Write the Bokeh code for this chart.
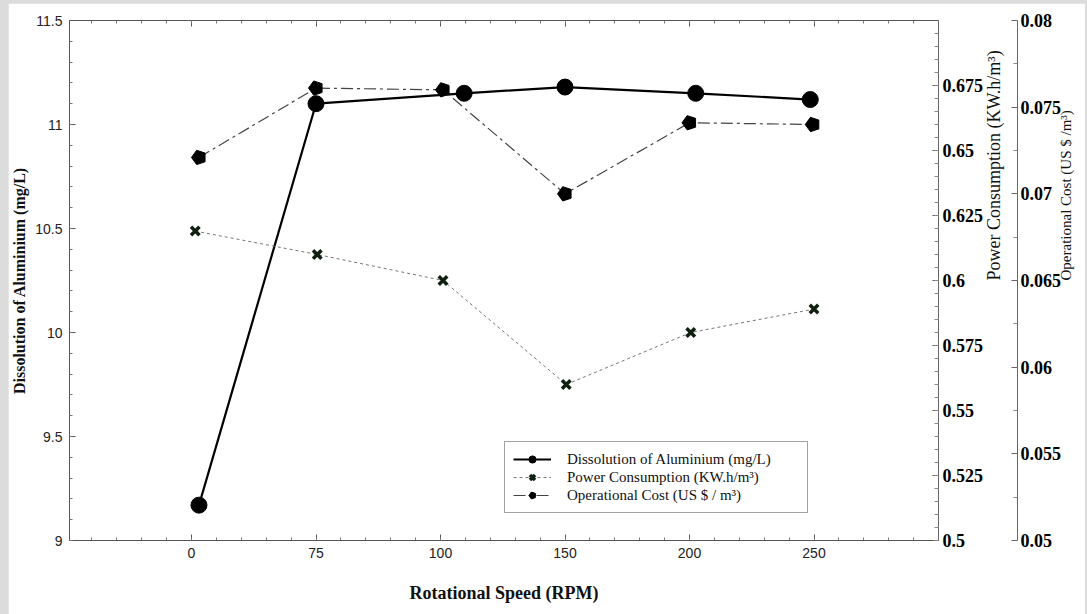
import numpy as np
from bokeh.plotting import figure
from bokeh.models import LinearAxis, Range1d, FixedTicker, Legend, LegendItem
from bokeh.embed import file_html
from bokeh.resources import INLINE

# ---------------- data ----------------
rpm_labels = ["0", "75", "100", "150", "200", "250"]

# x positions of points (in category-slot units, slot i = rpm_labels[i])
dis_x = [0.06, 1.00, 2.19, 3.00, 4.05, 4.97]
dis_y = [9.17, 11.10, 11.15, 11.18, 11.15, 11.12]          # mg/L

pow_x = [0.03, 1.01, 2.02, 3.01, 4.01, 5.00]
pow_y = [0.619, 0.610, 0.600, 0.560, 0.580, 0.589]        # KW.h/m3

cost_x = [0.06, 1.00, 2.02, 3.00, 4.00, 4.99]
cost_y = [0.0721, 0.0761, 0.0760, 0.0700, 0.0741, 0.0740]  # US $/m3

left_labels = ["9", "9.5", "10", "10.5", "11", "11.5"]
power_labels = ["0.5", "0.525", "0.55", "0.575", "0.6", "0.625", "0.65", "0.675"]
cost_labels = ["0.05", "0.055", "0.06", "0.065", "0.07", "0.075", "0.08"]

SERIF = "Liberation Serif"
SANS = "Liberation Sans"

p = figure(frame_width=869, frame_height=520,
           x_range=Range1d(-0.98, 6.0), y_range=Range1d(9, 11.5),
           output_backend="svg", toolbar_location=None,
           min_border_left=58, min_border_top=17, min_border_bottom=74, min_border_right=0,
           background_fill_color="white", border_fill_color="white",
           outline_line_color=None)
p.xgrid.visible = False
p.ygrid.visible = False
p.extra_y_ranges = {"power": Range1d(0.5, 0.7), "cost": Range1d(0.05, 0.08)}

# ---- x axis (bottom) ----
x_major = list(range(len(rpm_labels)))
x_minor = [round(v, 2) for v in np.arange(-0.8, 6.0, 0.2)]
xax = p.xaxis[0]
xax.ticker = FixedTicker(ticks=x_major, minor_ticks=x_minor)
xax.major_label_overrides = {i: s for i, s in enumerate(rpm_labels)}
xax.axis_label = "Rotational Speed (RPM)"

top = LinearAxis(ticker=FixedTicker(ticks=x_major, minor_ticks=x_minor),
                 major_label_standoff=0)
top.major_label_overrides = {i: "" for i in x_major}
p.add_layout(top, "above")

for ax in (xax, top):
    ax.major_tick_in = 6
    ax.major_tick_out = 0
    ax.minor_tick_in = 3
    ax.minor_tick_out = 0
    ax.axis_line_color = "#555555"
    ax.major_tick_line_color = "#555555"
    ax.minor_tick_line_color = "#777777"
xax.major_label_text_font = SANS
xax.major_label_text_font_size = "14px"
xax.major_label_text_color = "#222222"
xax.major_label_standoff = 7
xax.axis_label_text_font = SERIF
xax.axis_label_text_font_style = "bold"
xax.axis_label_text_font_size = "18px"
xax.axis_label_text_color = "#111111"
xax.axis_label_standoff = 22

# ---- left axis ----
yax = p.yaxis[0]
yax.ticker = FixedTicker(ticks=[float(s) for s in left_labels],
                         minor_ticks=[round(v, 2) for v in np.arange(9, 11.5, 0.1)])
yax.major_label_overrides = {float(s): s for s in left_labels}
yax.axis_label = "Dissolution of Aluminium (mg/L)"
yax.major_tick_in = 6
yax.major_tick_out = 0
yax.minor_tick_in = 3
yax.minor_tick_out = 0
yax.axis_line_color = "#555555"
yax.major_tick_line_color = "#555555"
yax.minor_tick_line_color = "#777777"
yax.major_label_text_font = SANS
yax.major_label_text_font_size = "14px"
yax.major_label_text_color = "#222222"
yax.major_label_standoff = 7
yax.axis_label_text_font = SERIF
yax.axis_label_text_font_style = "bold"
yax.axis_label_text_font_size = "16px"
yax.axis_label_text_color = "#111111"
yax.axis_label_standoff = 4

has_orient = "axis_label_orientation" in LinearAxis.properties()

# ---- right axes ----
pax = LinearAxis(y_range_name="power",
                 ticker=FixedTicker(ticks=[float(s) for s in power_labels],
                                    minor_ticks=[round(v, 3) for v in np.arange(0.5, 0.7, 0.005)]),
                 axis_label="Power Consumption (KW.h/m³)")
pax.major_label_overrides = {float(s): s for s in power_labels}

cax = LinearAxis(y_range_name="cost",
                 ticker=FixedTicker(ticks=[float(s) for s in cost_labels],
                                    minor_ticks=[round(v, 4) for v in np.arange(0.0525, 0.08, 0.005)]),
                 axis_label="Operational Cost (US $ /m³)")
cax.major_label_overrides = {float(s): s for s in cost_labels}

for ax in (pax, cax):
    ax.major_tick_in = 6
    ax.major_tick_out = 0
    ax.minor_tick_in = 4
    ax.minor_tick_out = 0
    ax.axis_line_color = "#666666"
    ax.major_tick_line_color = "#666666"
    ax.minor_tick_line_color = "#888888"
    ax.major_label_text_font = SERIF
    ax.major_label_text_font_style = "bold"
    ax.major_label_text_font_size = "18px"
    ax.major_label_text_color = "#000000"
    ax.axis_label_text_font = SERIF
    ax.axis_label_text_font_style = "normal"
    ax.axis_label_text_color = "#111111"
    if has_orient:
        ax.axis_label_orientation = np.pi / 2
pax.major_label_standoff = 4
pax.axis_label_text_font_size = "18px"
pax.axis_label_standoff = 8
cax.major_label_standoff = 3
cax.axis_label_text_font_size = "15px"
cax.axis_label_standoff = 2

p.add_layout(pax, "right")
p.add_layout(cax, "right")

# ---------------- series ----------------
r1l = p.line(dis_x, dis_y, line_color="black", line_width=2.2)
r1m = p.scatter(dis_x, dis_y, marker="circle", size=16, fill_color="black", line_color="black")

r2l = p.line(pow_x, pow_y, y_range_name="power", line_color="#777777",
             line_width=1, line_dash="3 3")
r2m = p.scatter(pow_x, pow_y, y_range_name="power", marker="x", size=12,
                line_width=3.5, line_color="#102010")

r3l = p.line(cost_x, cost_y, y_range_name="cost", line_color="#444444",
             line_width=1.2, line_dash="12 4 3 4")
try:
    r3m = p.ngon(x=cost_x, y=cost_y, radius=7.5, radius_units="screen", n=5,
                 angle=np.pi / 2, y_range_name="cost",
                 fill_color="black", line_color="black")
except Exception:
    r3m = p.scatter(cost_x, cost_y, y_range_name="cost", marker="hex", size=14,
                    fill_color="black", line_color="black")

legend = Legend(items=[
    LegendItem(label="Dissolution of Aluminium (mg/L)", renderers=[r1l, r1m]),
    LegendItem(label="Power Consumption (KW.h/m³)", renderers=[r2l, r2m]),
    LegendItem(label="Operational Cost (US $ / m³)", renderers=[r3l, r3m]),
], location=(435, 27))
legend.border_line_color = "#444444"
legend.border_line_width = 1
legend.background_fill_color = "white"
legend.background_fill_alpha = 1
legend.label_text_font = SERIF
legend.label_text_font_size = "15px"
legend.label_text_color = "#111111"
legend.label_standoff = 16
legend.label_width = 232
legend.glyph_width = 38
legend.glyph_height = 18
legend.label_height = 17
legend.spacing = 0
legend.padding = 8
legend.margin = 0
p.add_layout(legend)

html = file_html(p, INLINE, title="chart")
css = ("<style>html, body { background:#dcdcdc !important; overflow:hidden !important; }"
       " body { padding:3px 0 0 8px !important; margin:0 !important; }</style></head>")
html = html.replace("</head>", css, 1)
open("out.html", "w").write(html)
